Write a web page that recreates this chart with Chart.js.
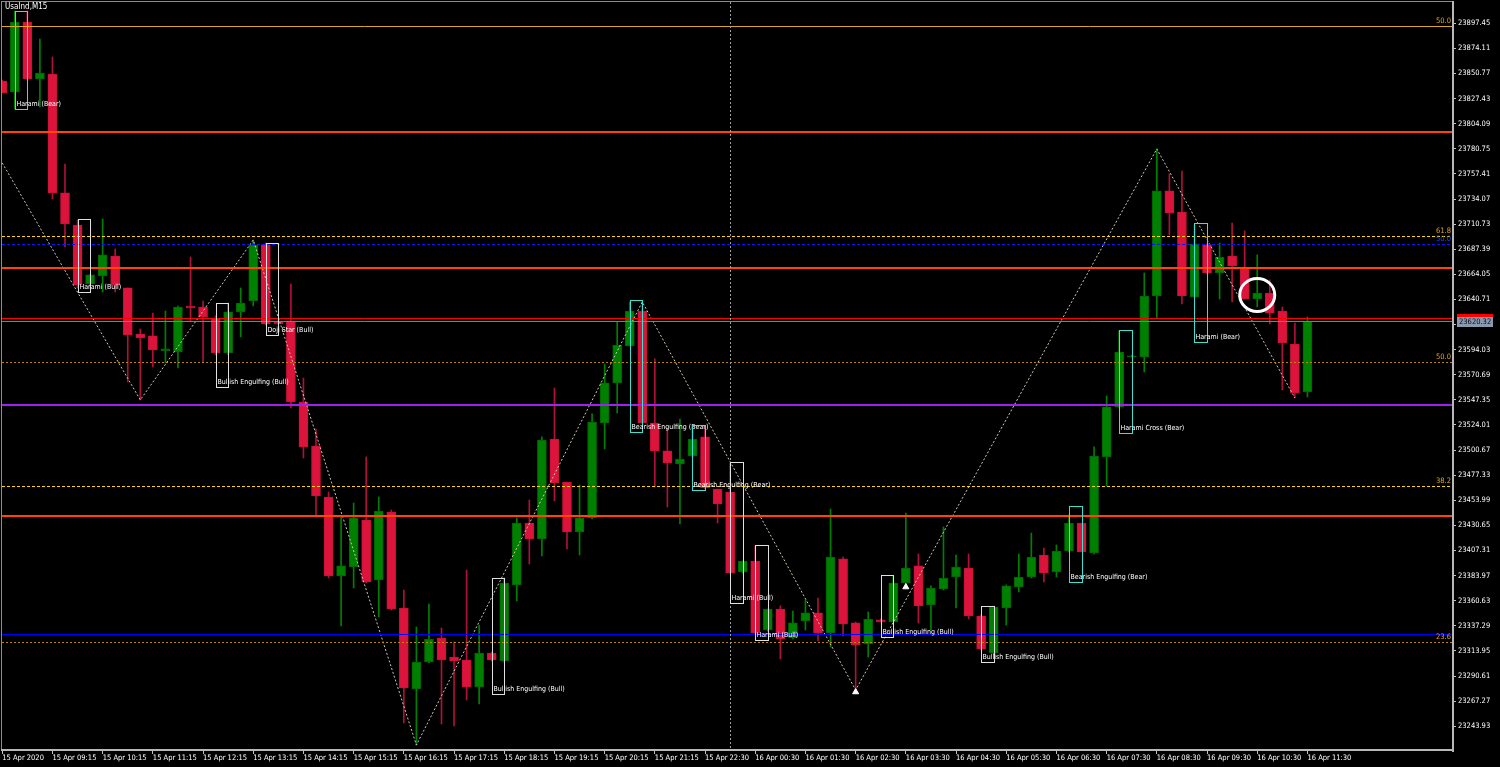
<!DOCTYPE html>
<html>
<head>
<meta charset="utf-8">
<script src="https://cdn.jsdelivr.net/npm/chart.js@4.4.0/dist/chart.umd.min.js"></script>
<style>
html, body { margin: 0; padding: 0; background: #000; }
#wrap { width: 1500px; height: 767px; }
</style>
</head>
<body>
<div id="wrap"><canvas id="chart" width="1500" height="767"></canvas></div>
<script>
// UsaInd M15, 15 Apr 08:15 .. 16 Apr 11:30 (105 bars)
var opens = [23843.8, 23833.6, 23898.6, 23845.7, 23850.3, 23739.7, 23709.9, 23655.1, 23662.5, 23681.1,
  23651.4, 23608.6, 23606.8, 23592.8, 23591.9, 23634.6, 23633.7, 23623.5, 23591.0, 23629.1,
  23639.3, 23691.4, 23619.8, 23620.7, 23545.4, 23504.5, 23457.1, 23383.7, 23392.0, 23435.7,
  23379.9, 23443.1, 23353.9, 23278.6, 23303.7, 23326.0, 23308.3, 23305.6, 23280.5, 23312.1,
  23304.6, 23375.3, 23432.9, 23418.1, 23511.0, 23471.0, 23424.6, 23437.6, 23525.9, 23563.1,
  23597.5, 23630.0, 23525.9, 23499.9, 23487.8, 23495.2, 23512.9, 23464.5, 23461.7, 23387.4,
  23397.6, 23333.5, 23353.0, 23326.0, 23341.8, 23349.3, 23330.7, 23399.5, 23340.0, 23320.4,
  23342.8, 23340.9, 23377.1, 23393.0, 23356.7, 23371.6, 23382.7, 23391.1, 23346.5, 23312.1,
  23353.9, 23373.4, 23382.7, 23403.2, 23387.4, 23406.9, 23432.9, 23405.0, 23494.3, 23540.8,
  23587.2, 23587.2, 23643.9, 23741.6, 23722.0, 23643.0, 23691.4, 23665.3, 23681.1, 23670.9,
  23641.1, 23646.7, 23630.0, 23599.3, 23554.7];
var highs = [23844.7, 23908.9, 23908.9, 23882.8, 23866.1, 23766.6, 23714.6, 23664.4, 23715.5, 23687.6,
  23651.4, 23613.3, 23628.1, 23630.0, 23634.6, 23680.2, 23639.3, 23625.4, 23637.4, 23651.4,
  23696.0, 23693.2, 23621.6, 23655.1, 23567.7, 23520.3, 23461.7, 23439.4, 23451.5, 23494.3,
  23457.1, 23445.0, 23370.6, 23336.2, 23357.6, 23335.3, 23322.3, 23389.2, 23338.1, 23313.0,
  23381.8, 23437.6, 23454.3, 23512.9, 23558.4, 23471.0, 23468.2, 23534.3, 23580.7, 23619.8,
  23638.4, 23638.4, 23585.4, 23520.3, 23529.6, 23522.2, 23522.2, 23464.5, 23488.7, 23397.6,
  23411.5, 23353.0, 23355.8, 23351.1, 23361.3, 23363.2, 23445.9, 23401.3, 23340.9, 23350.2,
  23343.7, 23383.7, 23442.2, 23404.1, 23374.4, 23429.2, 23403.2, 23404.1, 23347.4, 23355.8,
  23375.3, 23404.1, 23423.6, 23409.7, 23412.5, 23440.4, 23432.9, 23503.6, 23551.0, 23611.4,
  23589.1, 23665.3, 23780.6, 23757.4, 23760.1, 23709.9, 23692.3, 23693.2, 23711.8, 23704.4,
  23682.1, 23658.8, 23633.7, 23618.8, 23624.4];
var lows = [23832.6, 23817.8, 23844.7, 23819.6, 23734.1, 23689.5, 23651.4, 23654.2, 23647.7, 23647.7,
  23564.0, 23547.3, 23577.9, 23581.7, 23577.0, 23620.7, 23582.6, 23589.1, 23589.1, 23605.8,
  23634.6, 23617.0, 23617.0, 23539.8, 23493.3, 23438.5, 23381.8, 23337.2, 23372.5, 23377.1,
  23345.5, 23352.0, 23247.0, 23226.5, 23302.8, 23246.1, 23244.2, 23268.4, 23264.7, 23304.6,
  23303.7, 23360.4, 23394.8, 23402.2, 23453.4, 23408.8, 23403.2, 23436.6, 23501.7, 23535.2,
  23597.5, 23525.0, 23466.4, 23447.8, 23432.0, 23494.3, 23464.5, 23432.9, 23385.5, 23386.4,
  23329.7, 23332.5, 23306.5, 23325.1, 23333.5, 23323.2, 23317.7, 23327.9, 23277.7, 23308.3,
  23340.9, 23340.9, 23376.2, 23340.0, 23333.5, 23370.6, 23353.9, 23343.7, 23314.9, 23311.1,
  23338.1, 23368.8, 23381.8, 23378.1, 23382.7, 23406.0, 23406.0, 23404.1, 23467.3, 23539.8,
  23587.2, 23573.3, 23623.5, 23700.6, 23636.5, 23643.0, 23664.4, 23641.1, 23638.4, 23641.1,
  23633.7, 23617.9, 23556.6, 23549.1, 23550.1];
var closes = [23832.6, 23898.6, 23845.7, 23851.2, 23739.7, 23710.9, 23654.2, 23663.5, 23682.1, 23654.2,
  23607.7, 23604.9, 23593.7, 23594.7, 23633.7, 23632.8, 23624.4, 23591.0, 23629.1, 23637.4,
  23691.4, 23617.9, 23617.9, 23545.4, 23503.6, 23458.0, 23383.7, 23393.0, 23437.6, 23378.1,
  23444.1, 23353.0, 23279.5, 23303.7, 23325.1, 23305.6, 23304.6, 23280.5, 23312.1, 23305.6,
  23377.1, 23432.9, 23418.1, 23510.1, 23470.1, 23424.6, 23437.6, 23526.8, 23563.1, 23598.4,
  23630.0, 23525.9, 23499.9, 23488.7, 23492.4, 23511.0, 23465.5, 23450.6, 23386.4, 23397.6,
  23330.7, 23353.0, 23325.1, 23340.0, 23349.3, 23330.7, 23401.3, 23339.0, 23319.5, 23343.7,
  23340.9, 23377.1, 23391.1, 23355.8, 23372.5, 23381.8, 23392.0, 23346.5, 23315.8, 23354.8,
  23374.4, 23382.7, 23401.3, 23386.4, 23406.9, 23432.9, 23406.0, 23495.2, 23540.8, 23591.9,
  23588.2, 23643.9, 23741.6, 23721.1, 23643.9, 23692.3, 23665.3, 23680.2, 23671.8, 23641.1,
  23646.7, 23628.1, 23600.3, 23553.8, 23620.32];

// time labels, one every 4 bars
var xLabels = ['15 Apr 2020', '15 Apr 09:15', '15 Apr 10:15', '15 Apr 11:15', '15 Apr 12:15', '15 Apr 13:15',
  '15 Apr 14:15', '15 Apr 15:15', '15 Apr 16:15', '15 Apr 17:15', '15 Apr 18:15', '15 Apr 19:15',
  '15 Apr 20:15', '15 Apr 21:15', '15 Apr 22:30', '16 Apr 00:30', '16 Apr 01:30', '16 Apr 02:30',
  '16 Apr 03:30', '16 Apr 04:30', '16 Apr 05:30', '16 Apr 06:30', '16 Apr 07:30', '16 Apr 08:30',
  '16 Apr 09:30', '16 Apr 10:30', '16 Apr 11:30'];
var yTicks = [23897.45, 23874.11, 23850.77, 23827.43, 23804.09, 23780.75, 23757.41, 23734.07, 23710.73,
  23687.39, 23664.05, 23640.71, 23617.37, 23594.03, 23570.69, 23547.35, 23524.01, 23500.67, 23477.33,
  23453.99, 23430.65, 23407.31, 23383.97, 23360.63, 23337.29, 23313.95, 23290.61, 23267.27, 23243.93];

// zigzag indicator
var zzIdx = [0, 11, 20, 33, 51, 68, 92, 103];
var zzVal = [23767.6, 23547.3, 23696.0, 23226.5, 23638.4, 23277.7, 23780.6, 23549.1];
// arrows
var arrowIdx = [68, 72];
var arrowVal = [23275.8, 23373.4];

// horizontal objects
var hLineVals = [23894.9, 23796.7, 23699.7, 23692.6, 23670.0, 23623.2, 23620.32, 23582.9, 23542.9, 23467.3, 23439.7, 23330.0, 23322.6];
var fibVals = [23894.9, 23699.7, 23692.6, 23582.9, 23467.3, 23322.6];
var fibText = ['50.0', '61.8', '50.0', '50.0', '38.2', '23.6'];

// candle patterns
var patIdx = [1, 6, 17, 21, 39, 50, 55, 58, 60, 70, 78, 85, 89, 95];
var patTop = [23908.9, 23715.5, 23637.4, 23693.2, 23381.8, 23640.2, 23524.0, 23489.6, 23412.5, 23384.6, 23355.8, 23448.7, 23612.3, 23711.8];
var patBot = [23817.8, 23647.7, 23559.3, 23607.7, 23274.0, 23517.5, 23463.6, 23358.5, 23324.2, 23326.9, 23303.7, 23378.1, 23516.6, 23601.2];
var patName = ['Harami (Bear)', 'Harami (Bull)', 'Bullish Engulfing (Bull)', 'Doji Star (Bull)', 'Bullish Engulfing (Bull)',
  'Bearish Engulfing (Bear)', 'Bearish Engulfing (Bear)', 'Harami (Bull)', 'Harami (Bull)', 'Bullish Engulfing (Bull)',
  'Bullish Engulfing (Bull)', 'Bearish Engulfing (Bear)', 'Harami Cross (Bear)', 'Harami (Bear)'];

var separatorIdx = 58;
var markIdx = 100;
var markVal = 23644.9;

var FONT = "'DejaVu Sans Condensed', 'DejaVu Sans', sans-serif";
var UP = '#008000', DOWN = '#DC143C';

var lineStyle = [
  { color: '#E0A810', width: 1, dash: [] },
  { color: '#FF4500', width: 2, dash: [] },
  { color: '#FFD700', width: 1, dash: [3, 2] },
  { color: '#1010FF', width: 1, dash: [3, 2] },
  { color: '#FF4500', width: 2, dash: [] },
  { color: '#FF0000', width: 1, dash: [] },
  { color: '#708090', width: 1, dash: [] },
  { color: '#B8860B', width: 1, dash: [2, 2] },
  { color: '#A020F0', width: 2, dash: [] },
  { color: '#FFD700', width: 1, dash: [3, 2] },
  { color: '#FF4500', width: 2, dash: [] },
  { color: '#0000FF', width: 1, dash: [] },
  { color: '#B8860B', width: 1, dash: [2, 2] }
];
var fibColor = ['#DAA520', '#DAA520', '#2040FF', '#DAA520', '#DAA520', '#DAA520'];

var bodies = [], wicks = [];
for (var i = 0; i < opens.length; i++) {
  bodies.push({ x: i, y: [opens[i], closes[i]] });
  wicks.push({ x: i, y: [lows[i], highs[i]] });
}
var zigzag = zzIdx.map(function(v, k) { return { x: v, y: zzVal[k] }; });
var arrows = arrowIdx.map(function(v, k) { return { x: v, y: arrowVal[k] }; });

function isUp(ctx) {
  var k = ctx.dataIndex;
  return closes[k] >= opens[k];
}

var mtPlugin = {
  id: 'mtObjects',
  beforeDraw: function(chart) {
    var c = chart.ctx;
    c.save();
    c.fillStyle = '#000';
    c.fillRect(0, 0, chart.width, chart.height);
    c.restore();
  },
  afterDatasetsDraw: function(chart) {
    var c = chart.ctx, a = chart.chartArea;
    var xs = chart.scales.x, ys = chart.scales.y;
    c.save();
    c.beginPath();
    c.rect(a.left, a.top, a.right - a.left, a.bottom - a.top);
    c.clip();

    // horizontal lines
    hLineVals.forEach(function(v, k) {
      var st = lineStyle[k];
      var y = Math.round(ys.getPixelForValue(v)) + (st.width % 2 ? 0.5 : 0);
      c.strokeStyle = st.color;
      c.lineWidth = st.width;
      c.setLineDash(st.dash);
      c.beginPath();
      c.moveTo(a.left, y);
      c.lineTo(a.right, y);
      c.stroke();
    });

    // day separator
    var sx = Math.round(xs.getPixelForValue(separatorIdx)) + 0.5;
    c.strokeStyle = '#A0A0A0';
    c.lineWidth = 1;
    c.setLineDash([2, 2]);
    c.beginPath();
    c.moveTo(sx, a.top);
    c.lineTo(sx, a.bottom);
    c.stroke();
    c.setLineDash([]);

    // pattern boxes
    c.font = '7px ' + FONT;
    c.textBaseline = 'middle';
    c.textAlign = 'left';
    patIdx.forEach(function(p, k) {
      var x1 = Math.round(xs.getPixelForValue(p)) + 0.5;
      var x2 = Math.round(xs.getPixelForValue(p + 1)) + 0.5;
      var y1 = Math.round(ys.getPixelForValue(patTop[k])) + 0.5;
      var y2 = Math.round(ys.getPixelForValue(patBot[k])) + 0.5;
      c.strokeStyle = patName[k].indexOf('(Bear)') >= 0 ? '#40E0D0' : '#E0E0E0';
      c.lineWidth = 1;
      c.strokeRect(x1, y1, x2 - x1, y2 - y1);
      c.fillStyle = '#FFFFFF';
      c.fillText(patName[k], x1 + 1, y2 - 5);
    });

    // fibo level texts
    c.font = '7.5px ' + FONT;
    c.textAlign = 'right';
    fibVals.forEach(function(v, k) {
      c.fillStyle = fibColor[k];
      c.fillText(fibText[k], a.right - 1, ys.getPixelForValue(v) - 5);
    });

    // marker circle
    c.strokeStyle = '#FFFFFF';
    c.lineWidth = 3;
    c.beginPath();
    c.ellipse(xs.getPixelForValue(markIdx), ys.getPixelForValue(markVal), 17.5, 16.5, 0, 0, Math.PI * 2);
    c.stroke();
    c.restore();
  },
  afterDraw: function(chart) {
    var c = chart.ctx, a = chart.chartArea;
    var ys = chart.scales.y;
    c.save();
    // frame
    c.fillStyle = '#8C8C8C';
    c.fillRect(1, 1, a.right, 1);
    c.fillRect(1, 1, 1, a.bottom);
    c.fillStyle = '#B8B8B8';
    c.fillRect(a.right, 1, 2, a.bottom + 1);
    c.fillRect(1, a.bottom - 1, a.right + 1, 2);

    // title
    c.font = '8px ' + FONT;
    c.textBaseline = 'middle';
    c.textAlign = 'left';
    c.fillStyle = '#FFFFFF';
    c.fillText('UsaInd,M15', 5, 7);

    // price label
    var last = closes[closes.length - 1];
    var py = Math.round(ys.getPixelForValue(last));
    c.fillStyle = '#FF0000';
    c.fillRect(a.right + 5, py - 7, 36, 4);
    c.fillStyle = '#8A9AAE';
    c.fillRect(a.right + 5, py - 4, 36, 10);
    c.font = '7.5px ' + FONT;
    c.fillStyle = '#0A0A1A';
    c.fillText(last.toFixed(2), a.right + 7, py + 1);
    c.restore();
  }
};

Chart.defaults.font.family = FONT;
Chart.defaults.font.size = 7.5;

var ctx = document.getElementById('chart').getContext('2d');
new Chart(ctx, {
  type: 'bar',
  data: {
    datasets: [{
      type: 'line',
      data: arrows,
      showLine: false,
      pointStyle: 'triangle',
      pointRadius: 3.5,
      pointBackgroundColor: '#FFFFFF',
      pointBorderColor: '#FFFFFF',
      order: 0
    }, {
      type: 'line',
      data: zigzag,
      borderColor: '#CFC8B4',
      borderWidth: 1,
      borderDash: [2, 2],
      pointRadius: 0,
      fill: false,
      order: 1
    }, {
      data: bodies,
      grouped: false,
      barThickness: 9,
      minBarLength: 1,
      borderWidth: 1,
      borderSkipped: false,
      backgroundColor: function(c) { return isUp(c) ? UP : DOWN; },
      borderColor: function(c) { return isUp(c) ? '#006400' : '#C81238'; },
      order: 2
    }, {
      data: wicks,
      grouped: false,
      barThickness: 1,
      minBarLength: 1,
      borderWidth: 0,
      backgroundColor: function(c) { return isUp(c) ? UP : '#B0103A'; },
      order: 3
    }]
  },
  options: {
    responsive: false,
    animation: false,
    devicePixelRatio: 1,
    layout: { autoPadding: false, padding: { left: 2, top: 2, right: 0, bottom: 0 } },
    plugins: { legend: { display: false }, tooltip: { enabled: false } },
    scales: {
      x: {
        type: 'linear',
        min: -0.02,
        max: 115.52,
        offset: false,
        border: { display: false },
        grid: { display: true, drawOnChartArea: false, drawTicks: true, tickLength: 4, color: '#C0C0C0', offset: false },
        ticks: {
          color: '#FFFFFF',
          autoSkip: false,
          maxRotation: 0,
          align: 'start',
          padding: 0,
          font: { size: 7.5, family: FONT },
          callback: function(v, k) { return xLabels[k]; }
        },
        afterBuildTicks: function(s) {
          s.ticks = xLabels.map(function(l, k) { return { value: k * 4 }; });
        },
        afterFit: function(s) {
          s.height = 17;
          s.paddingLeft = 0;
          s.paddingRight = 0;
        }
      },
      y: {
        position: 'right',
        min: 23221.9,
        max: 23917.2,
        border: { display: false },
        grid: { display: true, drawOnChartArea: false, drawTicks: true, tickLength: 4, color: '#C0C0C0' },
        ticks: {
          color: '#FFFFFF',
          autoSkip: false,
          padding: 2,
          font: { size: 7.5, family: FONT },
          callback: function(v) { return Number(v).toFixed(2); }
        },
        afterBuildTicks: function(s) {
          s.ticks = yTicks.map(function(v) { return { value: v }; });
        },
        afterFit: function(s) {
          s.width = 48;
          s.paddingTop = 0;
          s.paddingBottom = 0;
        }
      }
    }
  },
  plugins: [mtPlugin]
});
</script>
</body>
</html>
